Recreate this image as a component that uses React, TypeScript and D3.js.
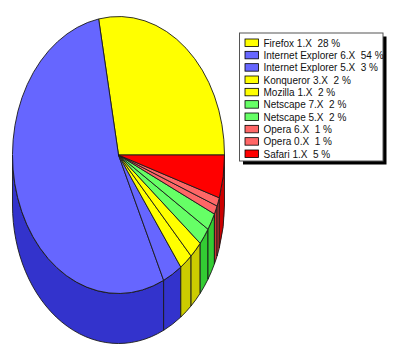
import * as d3 from 'd3'

// browser shares, in legend order (slices run counter-clockwise from 3 o'clock)
const browsers = [
  'Firefox 1.X',
  'Internet Explorer 6.X',
  'Internet Explorer 5.X',
  'Konqueror 3.X',
  'Mozilla 1.X',
  'Netscape 7.X',
  'Netscape 5.X',
  'Opera 6.X',
  'Opera 0.X',
  'Safari 1.X',
]
const shares = [28, 54, 3, 2, 2, 2, 2, 1, 1, 5]

const topColors = ['#ffff00', '#6666ff', '#6666ff', '#ffff00', '#ffff00', '#66ff66', '#66ff66', '#ff6666', '#ff6666', '#ff0000']
const sideColors = ['#cccc00', '#3333cc', '#3333cc', '#cccc00', '#cccc00', '#33cc33', '#33cc33', '#cc3333', '#cc3333', '#cc0000']

const W = 400
const H = 355
const cx = 118.5
const cy = 155
const rx = 106
const ry = 138.5
const depth = 50

const pt = (a: number, dy = 0): [number, number] => [cx + rx * Math.cos(a), cy - ry * Math.sin(a) + dy]

export default function App() {
  const topFill = d3.scaleOrdinal<number, string>().domain(d3.range(shares.length)).range(topColors)
  const sideFill = d3.scaleOrdinal<number, string>().domain(d3.range(shares.length)).range(sideColors)

  const arcs = d3.pie<number>().sort(null).startAngle(0).endAngle(2 * Math.PI)(shares)

  const topPath = (a0: number, a1: number) => {
    const [x0, y0] = pt(a0)
    const [x1, y1] = pt(a1)
    const large = a1 - a0 > Math.PI ? 1 : 0
    return `M${cx},${cy}L${x0},${y0}A${rx},${ry} 0 ${large} 0 ${x1},${y1}Z`
  }

  // only the front half (180°..360°) of the rim is visible
  const sidePath = (a0: number, a1: number) => {
    const b0 = Math.max(a0, Math.PI)
    const b1 = Math.min(a1, 2 * Math.PI)
    if (b1 <= b0) return null
    const [x0, y0] = pt(b0)
    const [x1, y1] = pt(b1)
    const [x2, y2] = pt(b1, depth)
    const [x3, y3] = pt(b0, depth)
    return `M${x0},${y0}A${rx},${ry} 0 0 0 ${x1},${y1}L${x2},${y2}A${rx},${ry} 0 0 1 ${x3},${y3}Z`
  }

  const legendY = d3.scaleLinear().domain([0, browsers.length - 1]).range([46.5, 157.5])

  return (
    <svg width={W} height={H} style={{ position: 'absolute', left: 0, top: 0, background: '#fff' }}
      fontFamily="'Liberation Sans', Arial, sans-serif">
      <g stroke="#1a1a1a" strokeWidth={0.9} strokeLinejoin="round">
        {arcs.map((a, i) => {
          const d = sidePath(a.startAngle, a.endAngle)
          return d ? <path key={'s' + i} d={d} fill={sideFill(i)} /> : null
        })}
        {arcs.map((a, i) => (
          <path key={'t' + i} d={topPath(a.startAngle, a.endAngle)} fill={topFill(i)} />
        ))}
      </g>

      <g>
        <rect x={243} y={36.5} width={143.5} height={128} fill="#000" />
        <rect x={239.5} y={33} width={143.5} height={128} fill="#fff" stroke="#555" strokeWidth={1} />
        {browsers.map((b, i) => (
          <g key={b} transform={`translate(0,${legendY(i)})`}>
            <rect x={245} y={-7.5} width={13.5} height={7.5} fill={topFill(i)} stroke="#000" strokeWidth={0.8} />
            <text x={263.5} y={0} fontSize={10} fill="#111" xmlSpace="preserve" style={{ whiteSpace: 'pre' }}>
              {`${b}  ${shares[i]} %`}
            </text>
          </g>
        ))}
      </g>
    </svg>
  )
}
